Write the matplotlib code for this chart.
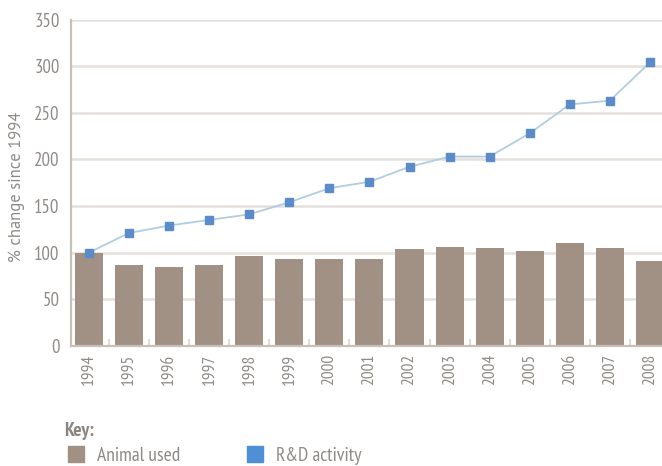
import matplotlib
matplotlib.use("Agg")
import matplotlib.pyplot as plt
from matplotlib.lines import Line2D
import numpy as np

years = ["1994", "1995", "1996", "1997", "1998", "1999", "2000", "2001",
         "2002", "2003", "2004", "2005", "2006", "2007", "2008"]
animals_used = [100, 87, 84, 87, 96, 93, 93, 93, 104, 106, 105, 102, 110, 105, 91]
rd_activity = [100, 121, 129, 135, 141, 154, 169, 176, 192, 203, 203, 228, 259, 263, 304]
yticks = [0, 50, 100, 150, 200, 250, 300, 350]

NARROW = ["PT Sans Narrow", "DejaVu Sans"]
REG = ["PT Sans", "DejaVu Sans"]
TXT = "#8f8a86"

fig = plt.figure(figsize=(6.62, 4.66), dpi=100)
ax = fig.add_axes([0.107, 0.258, 0.893, 0.700])

x = np.arange(len(years))
ax.bar(x, animals_used, width=0.7, color="#a09184", zorder=2)
ax.plot(x, rd_activity, color="#b0cde2", lw=1.3, zorder=3)
ax.plot(x, rd_activity, ls="", marker="s", ms=5.5, color="#5b8bc8", zorder=4)

ax.set_xlim(-0.45, 14.3)
ax.set_ylim(0, 350)
ax.set_yticks(yticks)
ax.set_yticklabels([str(v) for v in yticks], fontfamily=NARROW, fontsize=13.5, color=TXT)
ax.set_xticks(x)
ax.set_xticklabels(years, rotation=90, fontfamily=NARROW, fontsize=12.5, color=TXT)
ax.set_xticks(x[:-1] + 0.5, minor=True)
ax.tick_params(axis="x", which="major", length=0, pad=6)
ax.tick_params(axis="x", which="minor", direction="in", length=5, width=1.2, color="#dcd6d0")
ax.tick_params(axis="y", length=0, pad=8)

ax.yaxis.grid(True, color="#e4e0dc", lw=1.8, zorder=0)
ax.set_axisbelow(True)
for s in ["top", "right"]:
    ax.spines[s].set_visible(False)
for s in ["left", "bottom"]:
    ax.spines[s].set_color("#c8c0b8")
    ax.spines[s].set_linewidth(1.6)

fig.text(0.026, 0.600, "% change since 1994", rotation=90, ha="center", va="center",
         fontfamily=REG, fontsize=12, color=TXT)

fig.text(0.097, 0.075, "Key:", fontfamily=NARROW, fontsize=14, fontweight="bold",
         color="#8a8580", ha="left", va="center")

handles = [Line2D([], [], ls="", marker="s", ms=12, color="#a09184"),
           Line2D([], [], ls="", marker="s", ms=12, color="#4f8fd6")]
leg = fig.legend(handles, ["Animal used", "R&D activity"], loc="lower left",
                 bbox_to_anchor=(0.073, -0.035), ncol=2, frameon=False,
                 handlelength=1.0, handletextpad=0.6, columnspacing=3.35,
                 prop={"family": NARROW, "size": 14})
for t in leg.get_texts():
    t.set_color(TXT)

fig.savefig("out.png", dpi=100)
